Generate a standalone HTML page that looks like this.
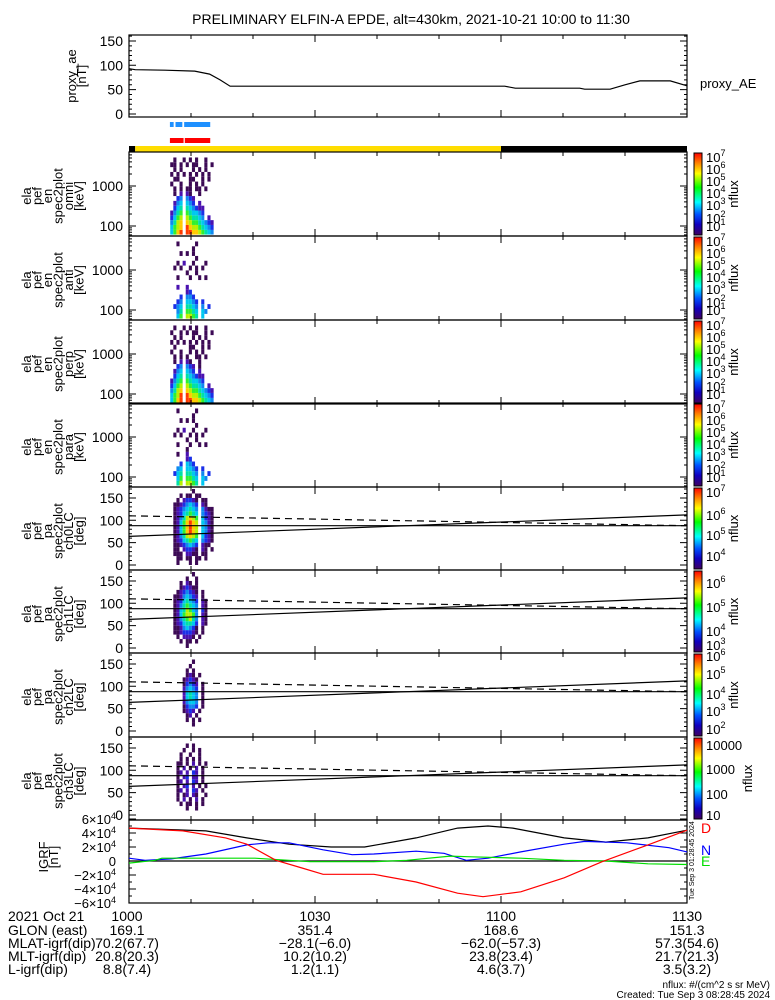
<!DOCTYPE html>
<html><head><meta charset="utf-8"><style>
body{margin:0;background:#fff;}
svg{display:block;font-family:"Liberation Sans",sans-serif;}
text{fill:#000;}
</style></head><body>
<svg id="fig" width="775" height="1000" viewBox="0 0 775 1000" xmlns="http://www.w3.org/2000/svg">
<rect width="775" height="1000" fill="#fff"/>
<text x="411" y="24" font-size="14" text-anchor="middle">PRELIMINARY ELFIN-A EPDE, alt=430km, 2021-10-21 10:00 to 11:30</text>
<g id="g"></g>
</svg>
<script>
// ---------- data ----------
const proxyT = [0,1,5.8,10.6,13,14.7,16.3,60.6,62.3,72.7,73.5,77.6,80,82.4,87.3,90];
const proxyV = [93,91,90,88,82,70,57,57,53,53,51,51,60,68,68,58];
const barT0 = [0,1,60];
const barT1 = [1,60,90];
const barColors = ['#000','#ffdd00','#000'];
const blueBarT0=[6.6,7.5,8.9], blueBarT1=[7.2,8.6,13.1];
const redBarT0=[6.6,9.0], redBarT1=[8.8,13.1];
const timeBins = [6.9,7.4,7.9,8.4,8.9,9.4,9.9,10.4,10.9,11.4,11.9,12.4,12.9,13.4];
const energyBins = [70,92,122,161,212,280,370,488,644,850,1122,1481,1955,2580,3406,4496];
const pitchBins = [5,15,25,35,45,55,65,75,85,95,105,115,125,135,145,155,165,175];
const omni = ["4689 998876543","4678 987765432","3578 876654321","2467 765543 1 ","1356 654432   "," 245 543211   "," 134 432 1    ","  23 321      "," 0 1 10  0    "," 0 0 00 00 0  ","0  0  0 0 0   "," 00   00  0 0 ","0 0 0 0 0 0 0 "," 0 0   0 0 0  ","00 0 0 00  0 0"," 0  0 0 0  0  "];
const anti = ["  46 7765 4   ","  35 6654 43  "," 234 5543 3 2 ","  23 4432 2   ","   2 332      ","     12       ","  1  1        ","              ","  0   0  0 0  ","     0  0     "," 0 0  0 0 0   ","  0 1  0   0  ","        0     ","   0 0 0      ","       0      ","  0     0     "];
const perp = ["4689 998876543","4679 987765432","3578 876654321","2467 765543 1 ","1356 654432   "," 245 543211   "," 134 432 1    ","  23 321 0    "," 0 1 10  0    "," 0 0 0  00 0  ","0  0  0 0 0   "," 0    00  0 0 ","0 0 0 0 0 0 0 "," 0 0   0 0 0  ","0  0 0 00  0 0"," 0  0 0 0  0  "];
const para = ["  57 7765 4   ","  46 6654 43  "," 245 5543 3 2 ","  34 4432 2   ","   2 432      ","     12       ","  0  1        ","     0        ","  0   0  0 0  ","     0  0     "," 0 0  0 0 0   ","  0 1  0   0  ","        0     ","   0 0 0      ","       0      ","  0     0     "];
const ch0 = ["  0   0 0     ","  00 00 00 0  "," 000 1100 00  "," 00 12210 10 0"," 00123432 100 "," 01245654 3210"," 01357876 4210"," 01468987 4310"," 01468987 4310"," 01468987 4310"," 01357876 4210"," 01245654 3210"," 01234543 3100"," 00123432 10  ","  0 12210 00  ","   0 00 00    ","       0      ","              "];
const ch1 = ["     0        ","   0 00 0     ","  0 1110 0    "," 00122210 0   "," 00134320 0   "," 01245542 10  "," 01356753 10  "," 01467763 10  "," 01457643 20  "," 01356543 10  "," 01245432 10  "," 00134321 0   ","  0123210 0   ","   012100     ","   0 10 0     ","     0  0     ","       0      ","              "];
const ch2 = ["              ","       0      ","     0 0 0    ","     01 0     ","    0121 0    ","    02332 0   ","    13443 0   ","    14543 0   ","    14543 0   ","    13432 0   ","    02321 0   ","    01210     ","     010 0    ","     0 0      ","      0       ","       0      ","              ","              "];
const ch3 = ["              ","     0  0     ","   0 00 0 0   ","  0 1 0 1 0   ","  0 01 10  0  ","  01 1 21 0   ","  0 12 1 0 0  ","  01 1 21 0   ","  0 12 11 0   ","  01 1 21 0   ","  0 1 0 1 0   ","  00 0 1 0 0  ","   0 0 0 0    ","   0  0  0    ","    0  0 0    ","     0 0      ","              ","              "];
const paTimes = [0,90];
const paRise = [64,112];
const paDash = [110,88];
const paFlat = [88,88];
const igrfBT = [0,12.4,19,25.8,32.6,38,46.3,53,57.9,61.9,70.2,76.9,83.7,90];
const igrfB  = [47,43,33,24,20,20,33,47,50,47,33,27,33,44];
const igrfDT = [0,8.7,15.6,19,23.7,27.9,31.3,39.5,46.3,53,57.1,63.2,70.2,76.3,83.7,90];
const igrfD  = [47,43,33,24,1,-10,-19,-19,-30,-46,-51,-44,-24,-1,23,44];
const igrfNT = [0,2.6,6.8,12.4,19,22.4,25.8,31.3,36,39.5,46.3,50.8,54.4,57.9,63.2,70.2,73.5,80.3,87.1,90];
const igrfN  = [4,1,3,10,23,26,26,16,9,10,14,11,1,4,13,24,28,26,19,13];
const igrfET = [0,4.2,5.3,20.3,25.8,29.2,39.5,44.8,51.8,55.2,63.2,70.2,76.9,83.7,90];
const igrfE  = [-3,1,4,4,1,-1,-1,1,7,6,4,1,0,-4,-5];
const energyTicks = [100,1000];
const paTicks = [0,50,100,150];
const proxyTicks = [0,50,100,150];
const igrfTicks = [-6,-4,-2,0,2,4,6];
const xTickTimes = [0,30,60,90];
// ---------- helpers ----------
const NS='http://www.w3.org/2000/svg';
const G=document.getElementById('g');
function mk(tag,attrs,parent){const e=document.createElementNS(NS,tag);for(const k in attrs)e.setAttribute(k,attrs[k]);(parent||G).appendChild(e);return e;}
const X0=129,X1=687;
function xs(t){return X0+t*(X1-X0)/90;}
const levelColors=['#3c0a55','#4a12b0','#1a30e8','#1088f0','#00c8f0','#00e0a8','#30f030','#b8f000','#ffcc00','#ff3a00'];
const eTops=[152,236,320,403];
const pTops=[487,570,653,737];
function yE(top,E){return top+34-(Math.log10(E)-3)*40;}
function yP(top,a){return top+78-a*0.447;}
function yProxy(v){return 114-v*0.487;}
function yIgrf(v){return 861-v*0.7;}
const defs=mk('defs',{});
const lg=mk('linearGradient',{id:'cb',x1:0,y1:0,x2:0,y2:1},defs);
[['0','#ff0000'],['0.12','#ff8000'],['0.25','#ffff00'],['0.42','#00ff00'],['0.6','#00ffff'],['0.75','#0050ff'],['0.87','#1000c0'],['1','#400060']].forEach(s=>mk('stop',{offset:s[0],'stop-color':s[1]},lg));

function frame(top,bot,name){
  const r=mk('rect',{x:X0,y:top,width:X1-X0,height:bot-top,fill:'none',stroke:'#000','stroke-width':1.2});
  
  
  for(let t=0;t<=90;t+=10){
    const L=(t%30===0)?7:4;
    const tk=mk('path',{d:`M${xs(t)},${bot}v${-L}M${xs(t)},${top}v${L}`,stroke:'#000','stroke-width':1});
    
    
  }
}
function ytick(y,L,name){
  const p=mk('path',{d:`M${X0},${y}h${L}M${X1},${y}h${-L}`,stroke:'#000','stroke-width':1});
  
  
}
function label(x,y,txt,name,opts){
  const t=mk('text',Object.assign({x:x,y:y,'font-size':13},opts||{}));
  t.textContent=txt;
  
  
  return t;
}
function vlabel(cx,cy,lines,name,dx){
  lines.forEach((s,i)=>{
    const x=cx+i*(dx||11);
    const t=mk('text',{x:x,y:cy,'font-size':13,'text-anchor':'middle',transform:`rotate(-90 ${x} ${cy})`});
    t.textContent=s;
    
    
  });
}
function poly(T,V,yf,color,name,dash){
  const pts=T.map((t,i)=>xs(t).toFixed(1)+','+yf(V[i]).toFixed(1)).join(' ');
  const p=mk('polyline',{points:pts,fill:'none',stroke:color,'stroke-width':1.2});
  if(dash)p.setAttribute('stroke-dasharray',dash);
  
  
}
// ---------- proxy AE ----------
frame(35,117,'proxy-ae');
for(let v=0;v<=160;v+=10){ytick(yProxy(v),v%50===0?7:3,'proxy-y-tick');}
proxyTicks.forEach(v=>label(123,yProxy(v)+5,String(v),'proxy-y-label',{'text-anchor':'end','font-size':14}));
vlabel(76,76,['proxy_ae','[nT]'],'proxy-y-title',10);
poly(proxyT,proxyV,yProxy,'#000','proxy-ae-line');
label(700,88,'proxy_AE','proxy-ae-legend');
blueBarT0.forEach((t,i)=>{const r=mk('rect',{x:xs(t),y:122,width:xs(blueBarT1[i])-xs(t),height:5,fill:'#1e90ff'});});
redBarT0.forEach((t,i)=>{const r=mk('rect',{x:xs(t),y:138,width:xs(redBarT1[i])-xs(t),height:5,fill:'#ff0000'});});
barT0.forEach((t,i)=>{const r=mk('rect',{x:xs(t),y:146,width:xs(barT1[i])-xs(t),height:6,fill:barColors[i]});});
// ---------- spectrogram helpers ----------
function cellsEnergy(grid,top,name){
  const dt=timeBins[1]-timeBins[0];
  grid.forEach((row,j)=>{
    const E=energyBins[j];
    const r=(j<energyBins.length-1?energyBins[j+1]/E:E/energyBins[j-1]);
    const y1=yE(top,E*Math.sqrt(r)), y0=yE(top,E/Math.sqrt(r));
    for(let i=0;i<row.length;i++){
      const c=row[i]; if(c===' ')continue;
      const x=xs(timeBins[i]-dt/2);
      const rc=mk('rect',{x:x,y:Math.max(top,y1),width:xs(timeBins[i]+dt/2)-x,height:Math.min(y0,top+84)-Math.max(top,y1),fill:levelColors[+c]});
      
      
    }
  });
}
function cellsPitch(grid,top,name){
  const dt=timeBins[1]-timeBins[0];
  grid.forEach((row,j)=>{
    const a=pitchBins[j];
    for(let i=0;i<row.length;i++){
      const c=row[i]; if(c===' ')continue;
      const x=xs(timeBins[i]-dt/2);
      const rc=mk('rect',{x:x,y:yP(top,a+5),width:xs(timeBins[i]+dt/2)-x,height:yP(top,a-5)-yP(top,a+5),fill:levelColors[+c]});
      
      
    }
  });
}
function colorbar(top,bot,labels,ys,name,nx){
  const r=mk('rect',{x:694,y:top+1,width:8,height:bot-top-2,fill:'url(#cb)',stroke:'#000','stroke-width':1});
  
  
  labels.forEach((s,i)=>{
    const t=mk('text',{x:706,y:ys[i]+5,'font-size':13});
    if(s.indexOf('^')>0){
      const p=s.split('^');
      t.textContent=p[0];
      const sp=mk('tspan',{dy:-6,'font-size':9},t);sp.textContent=p[1];
    } else t.textContent=s;
    
    
  });
  const cy=(top+bot)/2;
  const t=mk('text',{x:nx,y:cy,'font-size':13,'text-anchor':'middle',transform:`rotate(-90 ${nx} ${cy})`});
  t.textContent='nflux';
  
  
}
// ---------- energy panels ----------
const eGrids=[omni,anti,perp,para], eNames=['omni','anti','perp','para'];
eTops.forEach((top,k)=>{
  const bot=top+84;
  cellsEnergy(eGrids[k],top,'spec-'+eNames[k]);
  frame(top,bot,'spec-'+eNames[k]);
  for(let d=1;d<=3;d++)for(let m=1;m<=9;m++){const E=m*Math.pow(10,d);const y=yE(top,E);if(y>top+1&&y<bot-1)ytick(y,m===1?7:3,'energy-y-tick');}
  energyTicks.forEach(E=>label(123,yE(top,E)+5,String(E),'energy-y-label',{'text-anchor':'end','font-size':14}));
  vlabel(31,top+44,['ela','pef','en','spec2plot',eNames[k],'[keV]'],'spec-'+eNames[k]+'-y-title',10.5);
  colorbar(top,bot,['10^7','10^6','10^5','10^4','10^3','10^2','10^1'],[157,169,181,193,205,218,226].map(v=>v-152+top),'spec-'+eNames[k],738);
});
// ---------- pitch panels ----------
const pGrids=[ch0,ch1,ch2,ch3], pNames=['ch0LC','ch1LC','ch2LC','ch3LC'];
const cbLabels=[['10^7','10^6','10^5','10^4'],['10^6','10^5','10^4','10^3'],['10^6','10^5','10^4','10^3','10^2'],['10000','1000','100','10']];
const cbYs=[[492,515,535,556],[583,607,631,645],[656,674,694,711,729],[745,769,794,815]];
pTops.forEach((top,k)=>{
  const bot=k<3?pTops[k+1]:820;
  cellsPitch(pGrids[k],top,'pa-'+pNames[k]);
  frame(top,bot,'pa-'+pNames[k]);
  for(let a=0;a<=170;a+=10)ytick(yP(top,a),a%50===0?7:3,'pitch-y-tick');
  paTicks.forEach(a=>label(123,yP(top,a)+5,String(a),'pitch-y-label',{'text-anchor':'end','font-size':14}));
  poly(paTimes,paRise,v=>yP(top,v),'#000','loss-cone-line');
  poly(paTimes,paDash,v=>yP(top,v),'#000','anti-loss-cone-line','7,5');
  poly(paTimes,paFlat,v=>yP(top,v),'#000','ninety-deg-line');
  vlabel(31,top+44,['ela','pef','pa','spec2plot',pNames[k],'[deg]'],'pa-'+pNames[k]+'-y-title',10.5);
  colorbar(top,bot,cbLabels[k],cbYs[k],'pa-'+pNames[k],k===3?752:738);
});
// ---------- IGRF ----------
frame(820,903,'igrf');
for(let v=-6;v<=6;v++)ytick(yIgrf(v*10),v%2===0?7:3,'igrf-y-tick');
const zl=mk('line',{x1:X0,x2:X1,y1:yIgrf(0),y2:yIgrf(0),stroke:'#000','stroke-width':1.2});


igrfTicks.forEach(v=>{
  const t=mk('text',{x:116,y:yIgrf(v*10)+5,'font-size':13,'text-anchor':'end'});
  t.textContent=v===0?'0':(v<0?'\u2212':'')+Math.abs(v)*1+'\u00d710';
  if(v!==0){const s=mk('tspan',{dy:-5,'font-size':9},t);s.textContent='4';}
  
  
});
vlabel(48,857,['IGRF','[nT]'],'igrf-y-title',10);
poly(igrfBT,igrfB,v=>yIgrf(v),'#000','igrf-total-line');
poly(igrfNT,igrfN,v=>yIgrf(v),'#0000ff','igrf-n-line');
poly(igrfET,igrfE,v=>yIgrf(v),'#00dd00','igrf-e-line');
poly(igrfDT,igrfD,v=>yIgrf(v),'#ff0000','igrf-d-line');
label(701,833,'D','igrf-d-legend',{'font-size':14}).style.fill='#f00';
label(701,855,'N','igrf-n-legend',{'font-size':14}).style.fill='#00f';
label(701,866,'E','igrf-e-legend',{'font-size':14}).style.fill='#0d0';
{const t=mk('text',{x:694,y:900,'font-size':7,transform:'rotate(-90 694 900)'});t.textContent='Tue Sep  3 01:28:45 2024';}
// ---------- bottom annotation ----------
const rows=[['2021 Oct 21','1000','1030','1100','1130'],['GLON (east)','169.1','351.4','168.6','151.3'],['MLAT-igrf(dip)','70.2(67.7)','-28.1(-6.0)','-62.0(-57.3)','57.3(54.6)'],['MLT-igrf(dip)','20.8(20.3)','10.2(10.2)','23.8(23.4)','21.7(21.3)'],['L-igrf(dip)','8.8(7.4)','1.2(1.1)','4.6(3.7)','3.5(3.2)']];
const rowY=[921,935,948,961,974];
rows.forEach((r,i)=>{
  label(8,rowY[i],r[0],'orbit-row-label',{'font-size':14});
  for(let c=1;c<5;c++){
    const x=c===1?127:xs(xTickTimes[c-1]);
    label(x,rowY[i],r[c].replace(/-/g,'\u2212'),'orbit-value',{'text-anchor':'middle','font-size':14});
  }
});
label(770,988,'nflux: #/(cm^2 s sr MeV)','units-note',{'text-anchor':'end','font-size':10});
label(770,998,'Created: Tue Sep  3 08:28:45 2024','created-note',{'text-anchor':'end','font-size':10});
</script>
</body></html>
